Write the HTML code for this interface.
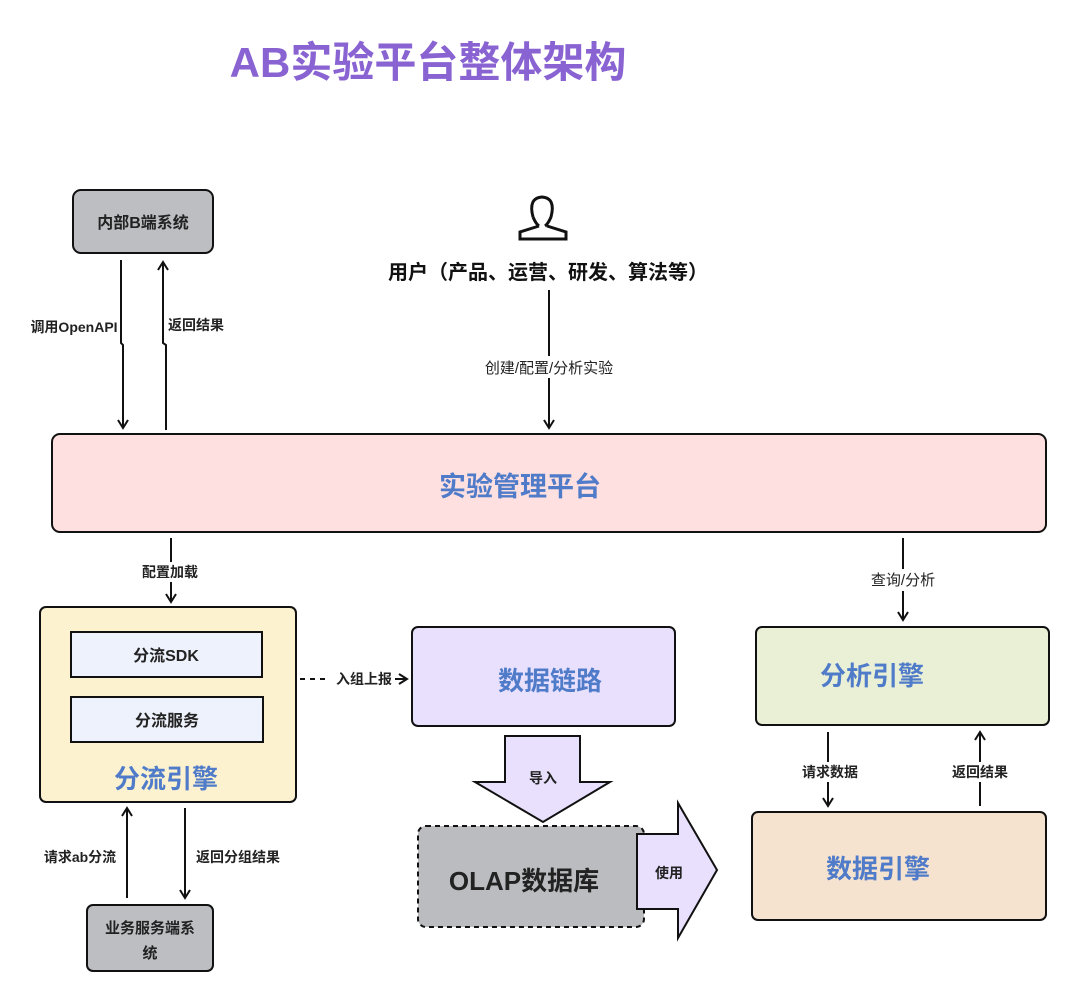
<!DOCTYPE html>
<html><head><meta charset="utf-8"><style>
body{margin:0;background:#fff}
svg{display:block}
text{font-family:"Liberation Sans","Noto Sans CJK SC",sans-serif;font-weight:bold}
</style></head><body>
<svg width="1080" height="1003" viewBox="0 0 1080 1003" xmlns="http://www.w3.org/2000/svg">
<defs>
<marker id="a" viewBox="0 0 12 12" refX="10" refY="6" markerWidth="12" markerHeight="12" markerUnits="userSpaceOnUse" orient="auto"><path d="M2 1 L10 6 L2 11" fill="none" stroke="#111" stroke-width="2"/></marker>
</defs>
<text x="428" y="77" font-size="42" fill="#8a63d2" text-anchor="middle">AB实验平台整体架构</text>

<rect x="73" y="190" width="140" height="63" rx="8" fill="#bcbec2" stroke="#111" stroke-width="2"/>
<text x="143" y="228" font-size="16" fill="#222" text-anchor="middle">内部B端系统</text>
<path d="M121 260 V343 L123 345 V428" stroke="#111" stroke-width="2" fill="none" marker-end="url(#a)"/>
<path d="M166 430 V345 L163 343 V262" stroke="#111" stroke-width="2" fill="none" marker-end="url(#a)"/>
<text x="74" y="332" font-size="14" fill="#222" text-anchor="middle">调用OpenAPI</text>
<text x="196" y="330" font-size="14" fill="#222" text-anchor="middle">返回结果</text>

<g fill="none" stroke="#111" stroke-width="3">
<path d="M533 217 Q528 198 542 197 Q556 198 551 217 Q548 224 545 226"/>
<path d="M539 226 Q536 224 533 217"/>
<path d="M539 226 L520 232 V239 H566 V232 L547 226"/>
</g>
<text x="548" y="279" font-size="20" fill="#111" text-anchor="middle">用户（产品、运营、研发、算法等）</text>
<path d="M549 290 V428" stroke="#111" stroke-width="2" fill="none" marker-end="url(#a)"/>
<rect x="470" y="356" width="160" height="22" fill="#fff"/>
<text x="549" y="373" font-size="15" style="font-weight:normal" fill="#222" text-anchor="middle">创建/配置/分析实验</text>

<rect x="52" y="434" width="994" height="98" rx="8" fill="#ffe0e0" stroke="#111" stroke-width="2"/>
<text x="520" y="496" font-size="27" fill="#4f7bc9" text-anchor="middle">实验管理平台</text>

<path d="M171 538 V602" stroke="#111" stroke-width="2" fill="none" marker-end="url(#a)"/>
<rect x="135" y="562" width="72" height="20" fill="#fff"/>
<text x="170" y="577" font-size="14" fill="#222" text-anchor="middle">配置加载</text>

<rect x="40" y="607" width="256" height="195" rx="6" fill="#fdf2d0" stroke="#111" stroke-width="2"/>
<rect x="71" y="632" width="191" height="45" fill="#eef2fc" stroke="#111" stroke-width="2"/>
<text x="166" y="661" font-size="16" fill="#222" text-anchor="middle">分流SDK</text>
<rect x="71" y="697" width="192" height="45" fill="#eef2fc" stroke="#111" stroke-width="2"/>
<text x="167" y="726" font-size="16" fill="#222" text-anchor="middle">分流服务</text>
<text x="166" y="788" font-size="26" fill="#4f7bc9" text-anchor="middle">分流引擎</text>

<path d="M300 679 H330" stroke="#111" stroke-width="2" stroke-dasharray="5 5"/>
<path d="M395 679 H407" stroke="#111" stroke-width="2" fill="none" marker-end="url(#a)"/>
<text x="364" y="684" font-size="14" fill="#222" text-anchor="middle">入组上报</text>

<rect x="412" y="627" width="263" height="99" rx="6" fill="#e8e0fd" stroke="#111" stroke-width="2"/>
<text x="550" y="690" font-size="26" fill="#4f7bc9" text-anchor="middle">数据链路</text>

<path d="M505 736 H580 V782 H610 L543 822 L475 782 H505 Z" fill="#e8e0fd" stroke="#111" stroke-width="2"/>
<text x="543" y="783" font-size="14" fill="#222" text-anchor="middle">导入</text>

<rect x="418" y="826" width="226" height="101" rx="8" fill="#bbbcbf" stroke="#111" stroke-width="2" stroke-dasharray="5 4"/>
<text x="524" y="890" font-size="26" fill="#222" text-anchor="middle">OLAP数据库</text>
<path d="M637 834 H678 V803 L717 870 L678 938 V909 H637 Z" fill="#e8e0fd" stroke="#111" stroke-width="2"/>
<text x="669" y="878" font-size="14" fill="#222" text-anchor="middle">使用</text>

<path d="M903 538 V620" stroke="#111" stroke-width="2" fill="none" marker-end="url(#a)"/>
<rect x="860" y="569" width="86" height="22" fill="#fff"/>
<text x="903" y="585" font-size="15" style="font-weight:normal" fill="#222" text-anchor="middle">查询/分析</text>

<rect x="756" y="627" width="293" height="98" rx="6" fill="#eaf0d6" stroke="#111" stroke-width="2"/>
<text x="872" y="685" font-size="26" fill="#4f7bc9" text-anchor="middle">分析引擎</text>

<path d="M828 732 V806" stroke="#111" stroke-width="2" fill="none" marker-end="url(#a)"/>
<rect x="796" y="762" width="68" height="20" fill="#fff"/>
<text x="830" y="777" font-size="14" fill="#222" text-anchor="middle">请求数据</text>
<path d="M980 806 V732" stroke="#111" stroke-width="2" fill="none" marker-end="url(#a)"/>
<rect x="946" y="762" width="68" height="20" fill="#fff"/>
<text x="980" y="777" font-size="14" fill="#222" text-anchor="middle">返回结果</text>

<rect x="752" y="812" width="294" height="108" rx="6" fill="#f5e3cf" stroke="#111" stroke-width="2"/>
<text x="878" y="878" font-size="26" fill="#4f7bc9" text-anchor="middle">数据引擎</text>

<path d="M127 898 V808" stroke="#111" stroke-width="2" fill="none" marker-end="url(#a)"/>
<text x="80" y="862" font-size="14" fill="#222" text-anchor="middle">请求ab分流</text>
<path d="M185 808 V898" stroke="#111" stroke-width="2" fill="none" marker-end="url(#a)"/>
<text x="238" y="862" font-size="14" fill="#222" text-anchor="middle">返回分组结果</text>

<rect x="87" y="905" width="126" height="66" rx="6" fill="#bcbec2" stroke="#111" stroke-width="2"/>
<text x="150" y="933" font-size="15" fill="#222" text-anchor="middle">业务服务端系</text>
<text x="150" y="958" font-size="15" fill="#222" text-anchor="middle">统</text>
</svg>
</body></html>
